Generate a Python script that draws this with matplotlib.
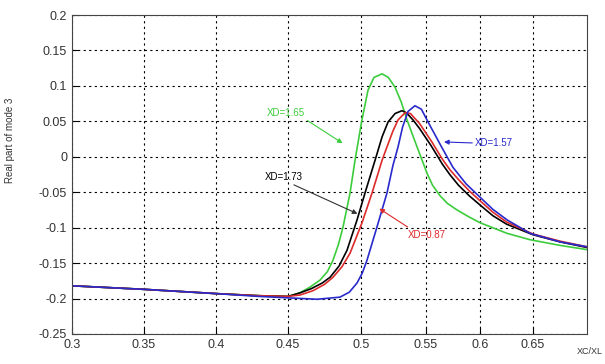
import numpy as np
import matplotlib.pyplot as plt

plt.rcParams['font.family'] = ['Liberation Sans', 'DejaVu Sans']

# osie x w oryginale sa nierowno rozciagniete - pozycje kresek w pikselach
x_ticks = [0.3, 0.35, 0.4, 0.45, 0.5, 0.55, 0.6, 0.65, 0.7]
x_pix = [72, 144, 216, 288, 361, 426, 480, 533, 587]
y_ticks = [0.2, 0.15, 0.1, 0.05, 0, -0.05, -0.1, -0.15, -0.2, -0.25]

# XD=1.65 (zielona)
x_green = [0.3, 0.35, 0.4, 0.43, 0.45, 0.458, 0.465, 0.4719, 0.477, 0.4808, 0.4845, 0.4877,
           0.4925, 0.4959, 0.5005, 0.5054, 0.51, 0.5162, 0.521, 0.5262, 0.531, 0.5354,
           0.5431, 0.5509, 0.556, 0.563, 0.57, 0.5787, 0.59, 0.6, 0.6255, 0.6472, 0.675, 0.7]
y_green = [-0.182, -0.187, -0.193, -0.196, -0.197, -0.192, -0.184, -0.174, -0.162, -0.146,
           -0.124, -0.099, -0.051, -0.005, 0.050, 0.094, 0.112, 0.117, 0.112, 0.098, 0.077,
           0.052, 0.014, -0.023, -0.040, -0.055, -0.066, -0.075, -0.085, -0.093, -0.108,
           -0.117, -0.125, -0.131]

# XD=1.73 (czarna)
x_black = [0.3, 0.35, 0.4, 0.43, 0.45, 0.4582, 0.466, 0.4735, 0.4788, 0.485, 0.4904, 0.4973,
           0.5031, 0.5108, 0.5162, 0.5208, 0.5262, 0.5315, 0.535, 0.54, 0.545, 0.555, 0.565,
           0.572, 0.58, 0.59, 0.6, 0.612, 0.625, 0.65, 0.675, 0.7]
y_black = [-0.182, -0.187, -0.193, -0.196, -0.197, -0.192, -0.186, -0.178, -0.170, -0.154,
           -0.132, -0.089, -0.051, -0.005, 0.028, 0.049, 0.061, 0.065, 0.062, 0.052, 0.040,
           0.015, -0.010, -0.025, -0.040, -0.055, -0.068, -0.083, -0.095, -0.110, -0.120,
           -0.128]

# XD=0.87 (czerwona)
x_red = [0.3, 0.35, 0.4, 0.43, 0.45, 0.4582, 0.467, 0.475, 0.4808, 0.487, 0.4925, 0.5008,
         0.5085, 0.5162, 0.52, 0.5245, 0.5285, 0.5338, 0.538, 0.545, 0.555, 0.565, 0.572,
         0.58, 0.59, 0.6, 0.612, 0.625, 0.65, 0.675, 0.7]
y_red = [-0.182, -0.187, -0.193, -0.196, -0.197, -0.195, -0.189, -0.180, -0.170, -0.155,
         -0.136, -0.093, -0.051, -0.005, 0.014, 0.036, 0.052, 0.062, 0.061, 0.047, 0.022,
         -0.003, -0.018, -0.032, -0.048, -0.062, -0.078, -0.092, -0.109, -0.119, -0.127]

# XD=1.57 (niebieska)
x_blue = [0.3, 0.35, 0.4, 0.43, 0.45, 0.47, 0.4856, 0.492, 0.4973, 0.501, 0.5046, 0.5123,
          0.52, 0.5246, 0.5285, 0.532, 0.5362, 0.5415, 0.5465, 0.5519, 0.558, 0.564, 0.575,
          0.587, 0.6, 0.612, 0.6255, 0.6472, 0.675, 0.7]
y_blue = [-0.182, -0.187, -0.193, -0.197, -0.199, -0.201, -0.198, -0.191, -0.178, -0.164,
          -0.146, -0.099, -0.051, -0.012, 0.014, 0.042, 0.064, 0.072, 0.067, 0.049, 0.032,
          0.015, -0.015, -0.038, -0.057, -0.074, -0.089, -0.108, -0.120, -0.127]


def fwd(x):
    return np.interp(x, x_ticks, x_pix)


def inv(p):
    return np.interp(p, x_pix, x_ticks)


fig = plt.figure(figsize=(6.05, 3.64), dpi=100)
ax = fig.add_axes([72 / 605, 1 - 334 / 364, 515 / 605, 319 / 364])
ax.set_xscale('function', functions=(fwd, inv))

ax.plot(x_green, y_green, color='#3ccc3c', lw=1.2)
ax.plot(x_black, y_black, color='black', lw=1.2)
ax.plot(x_red, y_red, color='#dd2a2a', lw=1.2)
ax.plot(x_blue, y_blue, color='#2a2acc', lw=1.2)

ax.set_xlim(0.3, 0.7)
ax.set_ylim(-0.25, 0.2)
ax.set_xticks(x_ticks[:-1])
ax.set_xticklabels(['%g' % t for t in x_ticks[:-1]])
ax.set_yticks(y_ticks)
ax.set_yticklabels(['%g' % t for t in y_ticks])
ax.tick_params(direction='in', labelsize=9, labelcolor='#333333', length=4)
ax.grid(True, color='black', linestyle=(0, (2, 3)), lw=0.8)
for s in ax.spines.values():
    s.set_color('#444444')

# opisy strzalek
ax.annotate('XD=1.65', xy=(0.489, 0.017), xytext=(0.4354, 0.062), color='#3ccc3c',
            fontsize=7, va='center',
            arrowprops=dict(arrowstyle='-|>', color='#3ccc3c', lw=0.8, shrinkA=0,
                            relpos=(0.95, 0.0)))
ax.annotate('XD=1.73', xy=(0.4993, -0.082), xytext=(0.434, -0.0286), color='black',
            fontsize=7, va='center',
            arrowprops=dict(arrowstyle='-|>', color='#333333', lw=0.8, shrinkA=0,
                            relpos=(0.6, 0.0)))
ax.annotate('XD=0.87', xy=(0.5123, -0.071), xytext=(0.5362, -0.110), color='#dd2a2a',
            fontsize=7, va='center',
            arrowprops=dict(arrowstyle='-|>', color='#dd2a2a', lw=0.8, shrinkA=0,
                            relpos=(0.1, 1.0)))
ax.annotate('XD=1.57', xy=(0.5641, 0.021), xytext=(0.5954, 0.0194), color='#2a2acc',
            fontsize=7, va='center',
            arrowprops=dict(arrowstyle='-|>', color='#2a2acc', lw=0.8, shrinkA=0,
                            relpos=(0.0, 0.5)))

fig.text(10 / 605, 1 - 140 / 364, 'Real part of mode 3', rotation=90, fontsize=7,
         color='#333333', ha='center', va='center')
fig.text(603 / 605, 1 - 352 / 364, 'XC/XL', fontsize=6.5, color='#333333', ha='right',
         va='center')

plt.savefig('out.png', dpi=100)
